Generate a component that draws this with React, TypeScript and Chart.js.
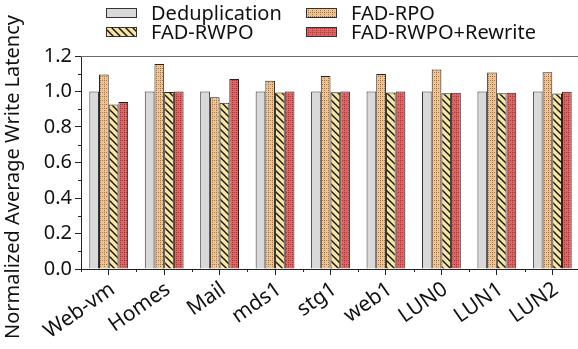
import React, { useEffect, useRef } from "react";
import { Chart, registerables } from "chart.js";

Chart.register(...registerables);

const categories = ["Web-vm", "Homes", "Mail", "mds1", "stg1", "web1", "LUN0", "LUN1", "LUN2"];
const seriesNames = ["Deduplication", "FAD-RPO", "FAD-RWPO", "FAD-RWPO+Rewrite"];
const dedup = [1.0, 1.0, 1.0, 1.0, 1.0, 1.0, 1.0, 1.0, 1.0];
const fadRpo = [1.096, 1.155, 0.968, 1.06, 1.088, 1.099, 1.124, 1.107, 1.109];
const fadRwpo = [0.927, 0.997, 0.936, 0.995, 0.996, 0.995, 0.99, 0.99, 0.989];
const fadRwpoRewrite = [0.941, 1.0, 1.071, 1.0, 1.0, 1.0, 0.993, 0.993, 0.998];
const yTicks = [0, 0.2, 0.4, 0.6, 0.8, 1.0, 1.2];
const yTitle = "Normalized Average Write Latency";

const FONT = "'Noto Sans', 'Open Sans', sans-serif";

function makeCanvas(w: number, h: number) {
  const c = document.createElement("canvas");
  c.width = w;
  c.height = h;
  return c;
}

function gridPattern(ctx: CanvasRenderingContext2D, bg: string, line: string, size: number) {
  const c = makeCanvas(size, size);
  const g = c.getContext("2d")!;
  g.fillStyle = bg;
  g.fillRect(0, 0, size, size);
  g.fillStyle = line;
  for (let i = 0; i < size; i += 2) {
    g.fillRect(i, 0, 1, 1);
    g.fillRect(0, i, 1, 1);
  }
  return ctx.createPattern(c, "repeat")!;
}

function hatchPattern(ctx: CanvasRenderingContext2D, bg: string, line: string) {
  const s = 7;
  const c = makeCanvas(s, s);
  const g = c.getContext("2d")!;
  g.fillStyle = bg;
  g.fillRect(0, 0, s, s);
  g.strokeStyle = line;
  g.lineWidth = 1.4;
  g.beginPath();
  for (let k = -1; k <= 1; k++) {
    g.moveTo(k * s - 1, -1);
    g.lineTo(k * s + s + 1, s + 1);
  }
  g.stroke();
  return ctx.createPattern(c, "repeat")!;
}

const frameAndLegend = {
  id: "frameAndLegend",
  afterDraw(chart: any) {
    const ctx = chart.ctx as CanvasRenderingContext2D;
    const area = chart.chartArea;
    const y = chart.scales.y;
    const x = chart.scales.x;
    ctx.save();
    // top frame line
    ctx.strokeStyle = "#6b6b6b";
    ctx.lineWidth = 1.2;
    ctx.beginPath();
    ctx.moveTo(area.left, area.top + 0.5);
    ctx.lineTo(area.right, area.top + 0.5);
    ctx.stroke();
    // y minor ticks
    ctx.strokeStyle = "#222";
    ctx.lineWidth = 1;
    for (let v = 0.1; v < 1.2; v += 0.2) {
      const py = Math.round(y.getPixelForValue(v)) + 0.5;
      ctx.beginPath();
      ctx.moveTo(area.left - 3, py);
      ctx.lineTo(area.left, py);
      ctx.stroke();
    }
    // x minor ticks at category boundaries
    for (let i = 0; i <= categories.length; i++) {
      const px = Math.round(x.getPixelForValue(i - 0.5)) + 0.5;
      ctx.beginPath();
      ctx.moveTo(px, area.bottom);
      ctx.lineTo(px, area.bottom + 3);
      ctx.stroke();
    }
    // y title
    ctx.save();
    ctx.translate(19, 177);
    ctx.rotate(-Math.PI / 2);
    ctx.font = `20px ${FONT}`;
    ctx.fillStyle = "#111";
    ctx.textAlign = "center";
    ctx.textBaseline = "alphabetic";
    ctx.fillText(yTitle, 0, 0);
    ctx.restore();
    // legend
    const cols = [106, 306];
    const rows = [13, 32];
    ctx.font = `20px ${FONT}`;
    ctx.textBaseline = "middle";
    ctx.textAlign = "left";
    [0, 1, 2, 3].forEach((di, k) => {
      const ds = chart.data.datasets[di];
      const bx = cols[k % 2];
      const by = rows[Math.floor(k / 2)];
      ctx.fillStyle = ds.backgroundColor;
      ctx.fillRect(bx, by - 4.5, 30, 9);
      ctx.strokeStyle = "#333";
      ctx.lineWidth = 1;
      ctx.strokeRect(bx + 0.5, by - 4.5, 30, 9);
      ctx.fillStyle = "#111";
      ctx.fillText(ds.label, bx + 45, by + 1);
    });
    ctx.restore();
  },
};

export default function App() {
  const ref = useRef<HTMLCanvasElement | null>(null);
  useEffect(() => {
    const canvas = ref.current!;
    const ctx = canvas.getContext("2d")!;
    const patRpo = gridPattern(ctx, "#f1c391", "#9a7450", 4);
    const patRwpo = hatchPattern(ctx, "#fae59d", "#111");
    const patRewrite = gridPattern(ctx, "#e06464", "#9c3838", 4);
    const chart = new Chart(canvas, {
      type: "bar",
      data: {
        labels: categories,
        datasets: [
          { label: seriesNames[0], data: dedup, backgroundColor: "#d9d9d9", borderColor: "#333", borderWidth: 1 },
          { label: seriesNames[1], data: fadRpo, backgroundColor: patRpo as any, borderColor: "#222", borderWidth: 1 },
          { label: seriesNames[2], data: fadRwpo, backgroundColor: patRwpo as any, borderColor: "#222", borderWidth: 1 },
          { label: seriesNames[3], data: fadRwpoRewrite, backgroundColor: patRewrite as any, borderColor: "#222", borderWidth: 1 },
        ],
      },
      options: {
        responsive: false,
        animation: false,
        layout: { padding: { top: 56, right: 0, left: 0, bottom: 0 } },
        datasets: { bar: { categoryPercentage: 0.7, barPercentage: 1.0 } },
        plugins: { legend: { display: false }, tooltip: { enabled: false } },
        scales: {
          x: {
            offset: true,
            afterFit: (axis: any) => {
              axis.height = 80;
            },
            border: { display: true, color: "#222", width: 1 },
            grid: { display: true, drawOnChartArea: false, offset: false, tickLength: 6, color: "#222" },
            ticks: {
              color: "#111",
              font: { family: FONT, size: 21 },
              minRotation: 35,
              maxRotation: 35,
              padding: 2,
              labelOffset: 4,
              autoSkip: false,
            },
          },
          y: {
            min: 0,
            max: 1.2,
            afterBuildTicks: (axis: any) => {
              axis.ticks = yTicks.map((v) => ({ value: v }));
            },
            afterFit: (axis: any) => {
              axis.width = 81;
            },
            border: { display: true, color: "#222", width: 1 },
            grid: { display: true, drawOnChartArea: false, tickLength: 6, color: "#222" },
            ticks: {
              color: "#111",
              font: { family: FONT, size: 20 },
              padding: 3,
              callback: (v: any) => Number(v).toFixed(1),
            },
          },
        },
      },
      plugins: [frameAndLegend],
    });
    return () => chart.destroy();
  }, []);
  return (
    <div style={{ position: "fixed", left: 0, top: 0, width: 578, height: 349, overflow: "hidden", background: "#fff" }}>
      <canvas ref={ref} width={580} height={349} style={{ display: "block" }} />
    </div>
  );
}
